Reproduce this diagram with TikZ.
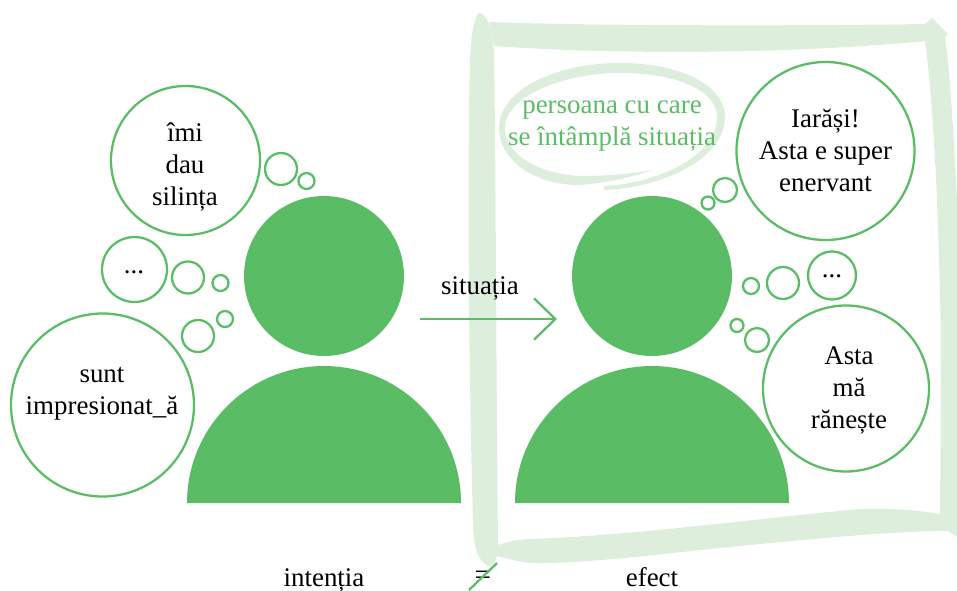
\documentclass[tikz,border=0pt]{standalone}
\usepackage{fontspec}
\usetikzlibrary{arrows.meta}
\setmainfont{Liberation Serif}
\definecolor{rolegreen}{RGB}{91,188,102}
\definecolor{framegreen}{RGB}{222,238,221}
\tikzset{every picture/.style={line width=0.75pt}}
\tikzset{
  bubble/.style={circle,draw=rolegreen,line width=1.7pt,inner sep=0pt,minimum size=#1*0.75pt},
  caption text/.style={inner sep=0.75pt,align=center,font=\fontsize{20.2}{24}\selectfont},
  role line/.style={draw=rolegreen,line width=2.2pt}
}

\begin{document}
\begin{tikzpicture}[x=0.75pt,y=0.75pt,yscale=-1,xscale=1]
\useasboundingbox (0,0) rectangle (957,590);

%Shape: Frame left
\fill [framegreen] (479,13) .. controls (486,13) and (491,25) .. (494,50) .. controls (496,180) and (496,350) .. (498,545) .. controls (498,555) and (496,566) .. (488,566) .. controls (478,560) and (474,550) .. (473,525) .. controls (469,380) and (467,180) .. (470,60) .. controls (471,35) and (474,16) .. (479,13) -- cycle ;
%Shape: Frame top
\fill [framegreen] (489,22) .. controls (600,26) and (800,26) .. (925,24) -- (926,41) .. controls (790,54) and (620,55) .. (494,46) -- cycle ;
%Shape: Frame right
\fill [framegreen] (925,24) -- (932,18) -- (948,34) -- (945,37) .. controls (950,70) and (954,140) .. (957,200) -- (957,537) -- (948,531) -- (940,528) -- (940,510) .. controls (941,400) and (941,320) .. (940,300) .. controls (938,200) and (933,100) .. (925,41) -- cycle ;
%Shape: Frame bottom
\fill [framegreen] (498,545) .. controls (510,541) and (520,539) .. (530,539) .. controls (640,535) and (760,518) .. (860,509) .. controls (890,508) and (930,510) .. (957,518) -- (957,531) .. controls (900,530) and (800,540) .. (700,550) .. controls (640,557) and (570,564) .. (530,563) .. controls (520,562) and (510,559) .. (497,556) -- cycle ;
%Shape: Swoosh
\fill [framegreen] (653,170) .. controls (620,181) and (590,185) .. (575,185) .. controls (530,183) and (499,158) .. (499,128) .. controls (499,90) and (555,63) .. (620,63) .. controls (680,63) and (725,85) .. (725,117) .. controls (725,160) and (660,188) .. (604,190) -- (604,186) .. controls (660,183) and (717,155) .. (717,117) .. controls (717,92) and (680,73) .. (620,73) .. controls (560,73) and (505,98) .. (505,128) .. controls (505,155) and (540,175) .. (583,176) .. controls (610,176) and (635,173) .. (653,170) -- cycle ;

%Shape: Persons
\fill [rolegreen] (324,276) circle (80) ;
\fill [rolegreen] (187,503) arc (180:360:137) -- cycle ;
\fill [rolegreen] (652,276) circle (80) ;
\fill [rolegreen] (515,503) arc (180:360:137) -- cycle ;

%Bubbles left
\node [bubble=149] (bubblesilinta) at (185.5,160.5) {};
\node [bubble=65] (bubbledotsleft) at (134.5,269.5) {};
\node [bubble=183] (bubblesunt) at (102.5,405) {};
\node [bubble=32] (cloudA) at (281,169) {};
\node [bubble=16] (cloudB) at (306.5,181) {};
\node [bubble=32] (cloudC) at (188,277.5) {};
\node [bubble=16] (cloudD) at (220.5,283) {};
\node [bubble=32] (cloudE) at (198,336) {};
\node [bubble=16] (cloudF) at (225,319) {};
%Bubbles right
\node [bubble=178] (bubbleiarasi) at (825.5,151) {};
\node [bubble=48] (bubbledotsright) at (832,275.5) {};
\node [bubble=166] (bubbleasta) at (846,388.5) {};
\node [bubble=24] (cloudG) at (725,190) {};
\node [bubble=13] (cloudH) at (708,203) {};
\node [bubble=32] (cloudI) at (783,283) {};
\node [bubble=16] (cloudJ) at (751,286) {};
\node [bubble=24] (cloudK) at (757,340) {};
\node [bubble=13] (cloudL) at (737,325.5) {};

% Text Node
\node [caption text] (silinta) at (185,167) {îmi\\dau\\silința};
% Text Node
\node [caption text] (dotsleft) at (134,272) {...};
% Text Node
\node [caption text] (sunt) at (102,394) {sunt\\impresionat\_ă};
% Text Node
\node [caption text] (iarasi) at (825.5,150) {Iarăși!\\Asta e super\\enervant};
% Text Node
\node [caption text] (dotsright) at (832,276) {...};
% Text Node
\node [caption text] (asta) at (849,390) {Asta\\mă\\rănește};
% Text Node
\node [caption text,text=rolegreen] (persoana) at (612,126) {persoana cu care\\se întâmplă situația};
% Text Node
\node [caption text] (situatia) at (480,288) {situația};
% Text Node
\node [caption text,anchor=base] (intentia) at (324,586) {intenția};
% Text Node
\node [caption text,anchor=base,font=\fontsize{22}{24}\selectfont] (egal) at (483,584) {=};
% Text Node
\node [caption text,anchor=base] (efect) at (652,586) {efect};

%Straight Lines
\coordinate (arrowstart) at (420,319);
\coordinate (arrowend) at (557,319);
\draw [role line,-{Straight Barb[length=16pt,width=31pt,line width=1.7pt]}] (arrowstart) -- (arrowend) ;
%Straight Lines
\coordinate (slashtop) at (497,563);
\coordinate (slashbottom) at (469,590);
\draw [role line,line width=1.7pt] (slashtop) -- (slashbottom) ;

\end{tikzpicture}
\end{document}
